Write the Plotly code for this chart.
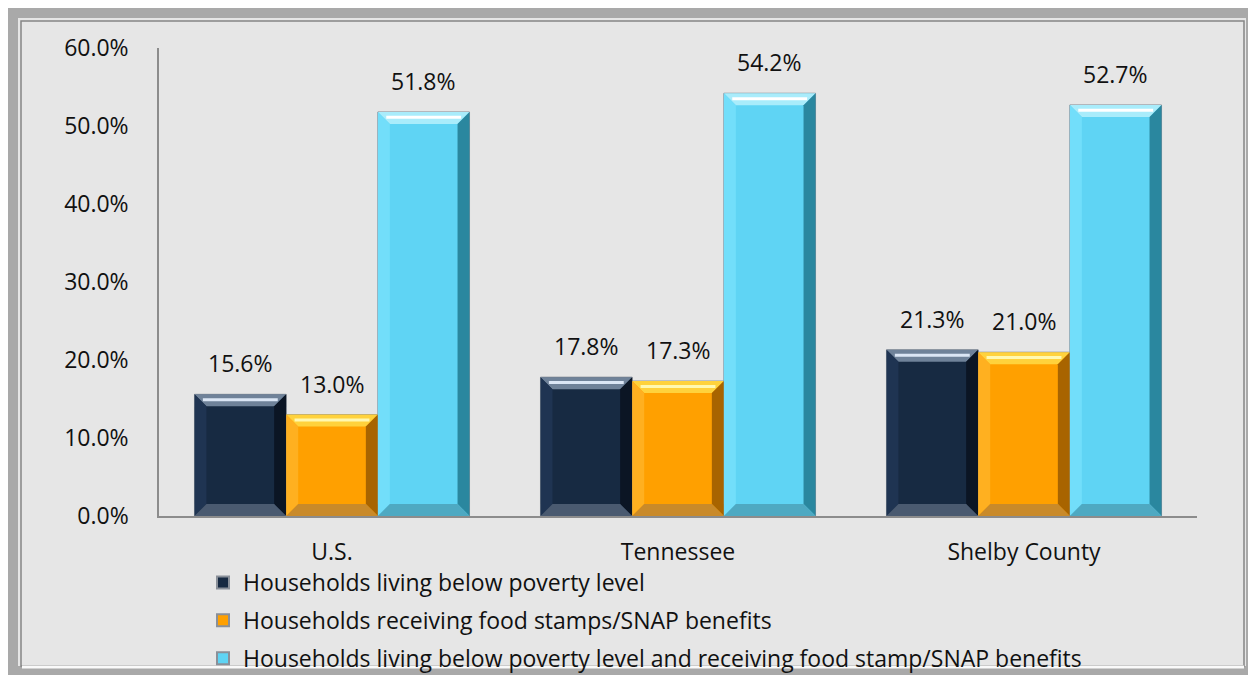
import plotly.graph_objects as go

categories = ["U.S.", "Tennessee", "Shelby County"]
series_names = [
    "Households living below poverty level",
    "Households receiving food stamps/SNAP benefits",
    "Households living below poverty level and receiving food stamp/SNAP benefits",
]
poverty = [15.6, 17.8, 21.3]
snap = [13.0, 17.3, 21.0]
poverty_and_snap = [51.8, 54.2, 52.7]
y_ticks = [0, 10, 20, 30, 40, 50, 60]

colors = ["#172a42", "#ffa000", "#5fd4f4"]
# bevel colours: top, left, right, bottom, top glint
bevels = [
    ("#6f8299", "#1f3452", "#0b1524", "#4a5a70", "#dbe6f5"),
    ("#ffd23c", "#ffb020", "#a86400", "#c98a2a", "#fff8b0"),
    ("#a9ecfb", "#72defa", "#2a879f", "#4ea9c2", "#ffffff"),
]

# page is drawn with an 8px body margin, so figure pixel = reference pixel - 8
W, H = 1248, 667
L, T = 151, 40
PLOT_R, PLOT_B = 1189, 508
R, B = W - PLOT_R, H - PLOT_B
PW, PH = PLOT_R - L, PLOT_B - T

def px_x(p):
    return (p - L) / PW

def px_y(p):
    return (PLOT_B - p) / PH

FONT = "Open Sans, sans-serif"
BARGAP = 0.205
n_series = len(series_names)
bar_w = (1 - BARGAP) / n_series
y_max = 60
bev_x = 12 / PW * len(categories)   # bevel size in category units
bev_y = 12 / PH * y_max             # bevel size in value units

fig = go.Figure()
shapes = [
    dict(type="rect", xref="paper", yref="paper",
         x0=px_x(5), x1=px_x(1243), y0=px_y(5), y1=px_y(663),
         line=dict(color="#a9a9a9", width=10), fillcolor="#e6e6e6", layer="below"),
    dict(type="rect", xref="paper", yref="paper",
         x0=px_x(13), x1=px_x(1236), y0=px_y(13), y1=px_y(658),
         line=dict(color="#858585", width=1.5), layer="below"),
    dict(type="line", xref="paper", yref="paper",
         x0=px_x(14), x1=px_x(1236), y0=px_y(659), y1=px_y(659),
         line=dict(color="#fafafa", width=3), layer="below"),
]
annotations = []

for k, (name, vals, c, bv) in enumerate(zip(series_names, [poverty, snap, poverty_and_snap], colors, bevels)):
    fig.add_trace(go.Bar(
        name=name, x=categories, y=vals,
        marker=dict(color=c, line=dict(color="#8a9099", width=1)),
        legendgroup=name,
    ))
    off = (k - (n_series - 1) / 2) * bar_w
    for i, v in enumerate(vals):
        cx = i + off
        xl, xr = cx - bar_w / 2, cx + bar_w / 2
        top_c, left_c, right_c, bot_c, glint = bv
        polys = [
            (top_c, [(xl, v), (xr, v), (xr - bev_x, v - bev_y), (xl + bev_x, v - bev_y)]),
            (left_c, [(xl, v), (xl + bev_x, v - bev_y), (xl + bev_x, bev_y), (xl, 0)]),
            (right_c, [(xr, v), (xr, 0), (xr - bev_x, bev_y), (xr - bev_x, v - bev_y)]),
            (bot_c, [(xl, 0), (xr, 0), (xr - bev_x, bev_y), (xl + bev_x, bev_y)]),
        ]
        for col, pts in polys:
            path = "M " + " L ".join(f"{px},{py}" for px, py in pts) + " Z"
            shapes.append(dict(type="path", xref="x", yref="y", path=path,
                               fillcolor=col, line=dict(width=0), layer="above"))
        gy = v - bev_y * 0.45
        shapes.append(dict(type="line", xref="x", yref="y",
                           x0=xl + bev_x * 0.7, x1=xr - bev_x * 0.7, y0=gy, y1=gy,
                           line=dict(color=glint, width=3), layer="above"))
        annotations.append(dict(x=cx, y=v, xref="x", yref="y", text=f"{v:.1f}%",
                                showarrow=False, yanchor="bottom", yshift=13,
                                font=dict(size=23, color="#111111", family=FONT)))

fig.update_layout(
    width=W, height=H,
    margin=dict(l=L, r=R, t=T, b=B, pad=0, autoexpand=False),
    paper_bgcolor="#ffffff", plot_bgcolor="rgba(0,0,0,0)",
    barmode="group", bargap=BARGAP, bargroupgap=0,
    font=dict(family=FONT, size=23, color="#111111"),
    showlegend=True,
    legend=dict(x=px_x(195), y=px_y(553), xanchor="left", yanchor="top",
                orientation="v", font=dict(size=23, family=FONT),
                tracegroupgap=5, bgcolor="rgba(0,0,0,0)", itemsizing="constant",
                itemwidth=30),
    shapes=shapes,
    annotations=annotations,
    xaxis=dict(showline=True, linecolor="#8c8c8c", linewidth=1.5, ticks="",
               showgrid=False, tickfont=dict(size=23), ticklabelstandoff=15),
    yaxis=dict(range=[0, y_max], tickvals=y_ticks,
               ticktext=[f"{v:.1f}%" for v in y_ticks],
               showline=True, linecolor="#8c8c8c", linewidth=1.5, ticks="",
               showgrid=False, zeroline=False, tickfont=dict(size=23),
               ticklabelstandoff=24),
)

fig.write_html("out.html")
